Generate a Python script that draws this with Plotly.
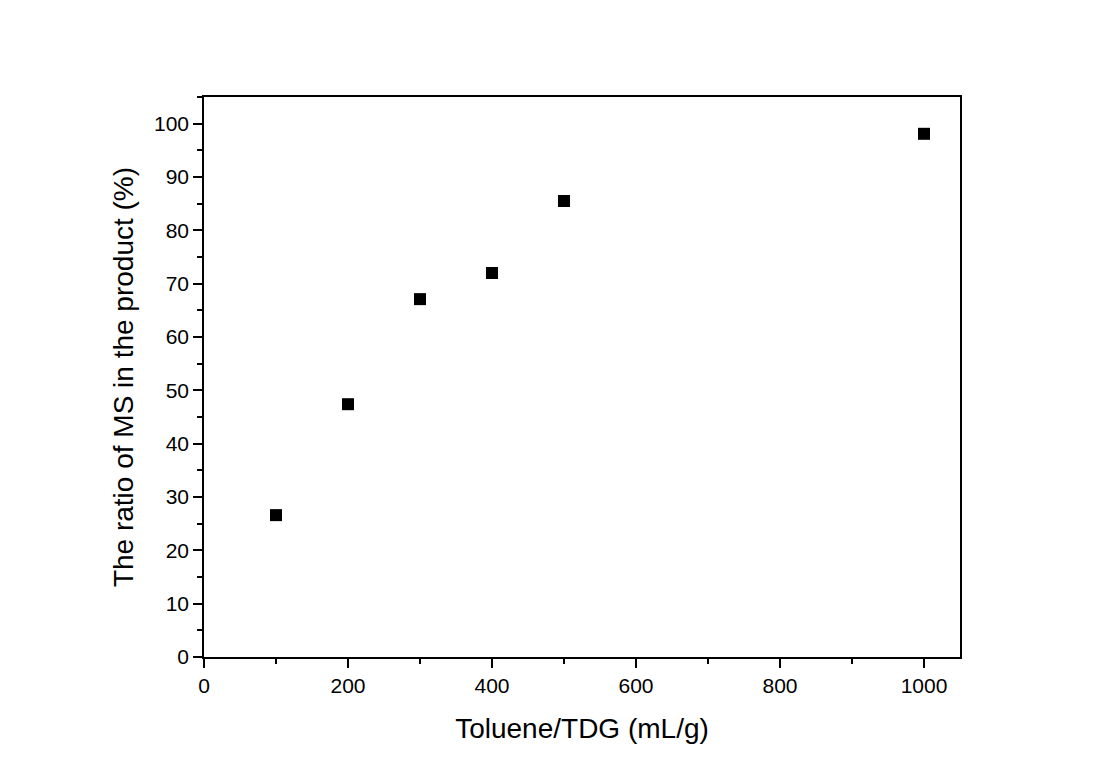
import plotly.graph_objects as go

# Toluene/TDG ratio vs share of MS in product
toluene_tdg = [100, 200, 300, 400, 500, 1000]
ms_ratio = [26.6, 47.4, 67.1, 72.0, 85.5, 98.1]

x_ticks = [0, 200, 400, 600, 800, 1000]
y_ticks = list(range(0, 101, 10))

FONT = "Liberation Sans, Arial, sans-serif"
tick_font = dict(family=FONT, size=21, color="black")
title_font = dict(family=FONT, size=28, color="black")

fig = go.Figure(
    go.Scatter(
        x=toluene_tdg,
        y=ms_ratio,
        mode="markers",
        marker=dict(symbol="square", size=12, color="black"),
        showlegend=False,
    )
)

common = dict(
    showline=True,
    linecolor="black",
    linewidth=1.5,
    mirror=True,
    ticks="outside",
    ticklen=9,
    tickwidth=1.5,
    tickcolor="black",
    showgrid=False,
    zeroline=False,
    tickfont=tick_font,
)

fig.update_xaxes(
    range=[0, 1050],
    tickvals=x_ticks,
    minor=dict(ticks="outside", ticklen=5, tickwidth=1.5, tickcolor="black", dtick=100, tick0=0),
    title=dict(text="Toluene/TDG (mL/g)", font=title_font, standoff=22),
    **common,
)
fig.update_yaxes(
    range=[0, 105],
    tickvals=y_ticks,
    minor=dict(ticks="outside", ticklen=5, tickwidth=1.5, tickcolor="black", dtick=5, tick0=0),
    title=dict(text="The ratio of MS in the product (%)", font=title_font, standoff=12),
    **common,
)

# page adds ~8px body margin, so shift margins to land the plot box where the reference has it
fig.update_layout(
    width=1100,
    height=780,
    margin=dict(l=196, r=148, t=89, b=131),
    plot_bgcolor="white",
    paper_bgcolor="white",
)

fig.write_html("out.html")
